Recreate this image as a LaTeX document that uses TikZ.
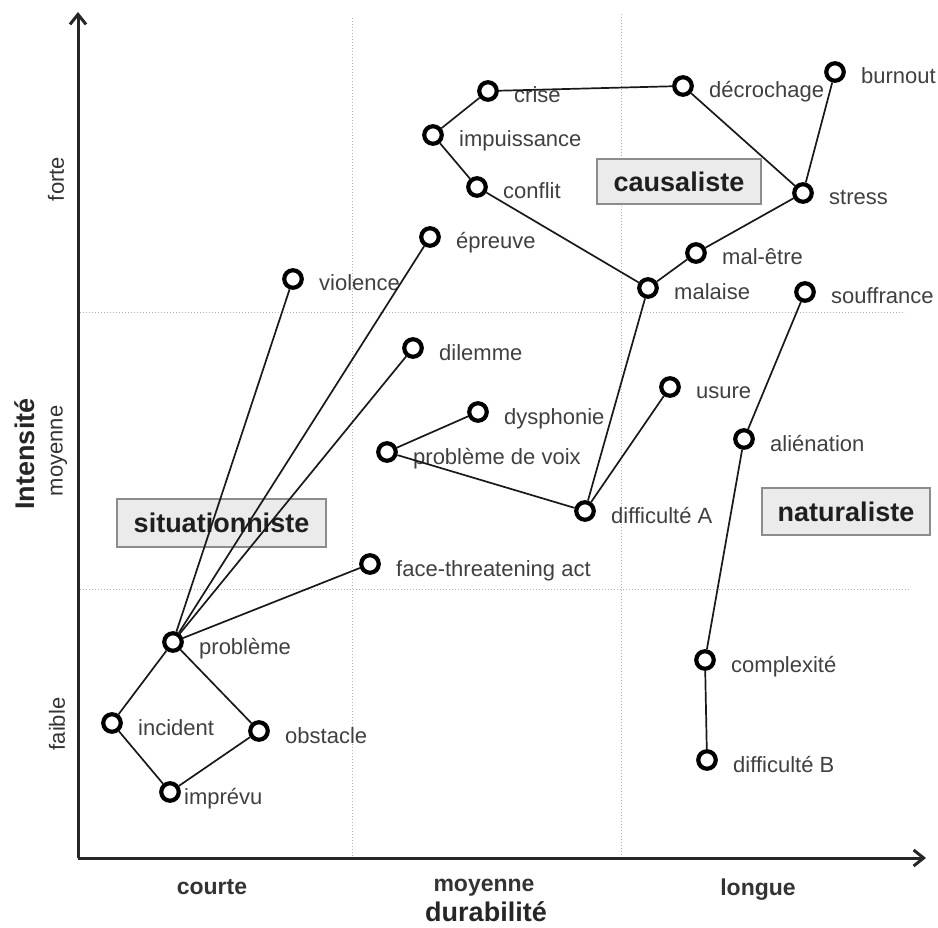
\documentclass[tikz,border=0pt]{standalone}
\usepackage{fontspec}
\setmainfont{Liberation Sans}
\usetikzlibrary{arrows.meta}
\begin{document}
\begin{tikzpicture}[x=1pt,y=-1pt,
  dot/.style={circle,draw=black,line width=4.2pt,fill=white,minimum size=17.5pt,inner sep=0pt},
  lbl/.style={anchor=base west,inner sep=0pt,text=black!75,font=\fontsize{22}{24}\selectfont},
  link/.style={line width=1.7pt,black!90},
  cat/.style={draw=black!45,fill=black!8,line width=1.3pt,text=black!88,inner sep=0pt,
     font=\bfseries\fontsize{27}{30}\selectfont},
  gridline/.style={dotted,black!30,line width=1pt},
  axis/.style={line width=3pt,black!85,-{Straight Barb[length=10pt,width=16pt,line width=3pt]}},
  tick/.style={font=\bfseries\fontsize{23}{26}\selectfont,text=black!80,inner sep=0pt},
  vtick/.style={font=\fontsize{22}{24}\selectfont,text=black!80,inner sep=0pt,rotate=90},
  axlbl/.style={font=\bfseries\fontsize{27}{30}\selectfont,text=black!85,inner sep=0pt},
]
\useasboundingbox (0,0) rectangle (938,928);
% grid
\draw[gridline] (352,18) -- (352,856);
\draw[gridline] (621,14) -- (621,856);
\draw[gridline] (80,313) -- (905,313);
\draw[gridline] (80,589) -- (911,589);
% axes
\coordinate (O) at (78,858);
\coordinate (ytop) at (78,12);
\coordinate (xend) at (926,858);
\draw[axis] (O) -- (ytop);
\draw[axis] (O) -- (xend);
% axis labels
\node[vtick] (forte) at (56,179) {forte};
\node[vtick] (moyv) at (59,451) {moyenne};
\node[vtick] (faible) at (57,724) {faible};
\node[axlbl,rotate=90] (int) at (25,454) {Intensité};
\node[tick] (courte) at (212,887) {courte};
\node[tick] (moyh) at (484,888) {moyenne};
\node[tick] (longue) at (758,890) {longue};
\node[axlbl] (dur) at (486,912) {durabilité};
% category boxes
\node[cat,minimum width=164pt,minimum height=45pt] (caus) at (679,181.5) {causaliste};
\node[cat,minimum width=209pt,minimum height=48pt] (sit) at (221.5,523) {situationniste};
\node[cat,minimum width=168pt,minimum height=47pt] (nat) at (846,511.5) {naturaliste};
% nodes
\foreach \n/\x/\y/\t in {
  crise/488/91/crise,
  decro/683/86/décrochage,
  burn/835/72/burnout,
  stress/803/193/stress,
  malet/696/253/mal-être,
  malaise/648/288/malaise,
  souf/805/292/souffrance,
  usure/670/387/usure,
  alien/744/439/aliénation,
  impu/433/135/impuissance,
  conflit/477/187/conflit,
  epreuve/430/237/épreuve,
  viol/293/279/violence,
  dilem/413/348/dilemme,
  dysph/478/412/dysphonie,
  pvoix/387/452/problème de voix,
  diffA/585/511/difficulté A,
  fta/370/564/face-threatening act,
  prob/173/642/problème,
  incid/112/723/incident,
  obst/259/731/obstacle,
  compl/705/660/complexité,
  diffB/707/760/difficulté B}
{
  \node[dot] (\n) at (\x,\y) {};
  \node[lbl] (\n-l) at (\x+26,\y+12) {\t};
}
\node[dot] (impr) at (170,792) {};
\node[lbl] (impr-l) at (184,804) {imprévu};
% links
\draw[link] (crise) -- (decro);
\draw[link] (crise) -- (impu);
\draw[link] (impu) -- (conflit);
\draw[link] (conflit) -- (malaise);
\draw[link] (decro) -- (stress);
\draw[link] (burn) -- (stress);
\draw[link] (stress) -- (malet);
\draw[link] (malet) -- (malaise);
\draw[link] (malaise) -- (diffA);
\draw[link] (usure) -- (diffA);
\draw[link] (pvoix) -- (diffA);
\draw[link] (dysph) -- (pvoix);
\draw[link] (souf) -- (alien);
\draw[link] (alien) -- (compl);
\draw[link] (compl) -- (diffB);
\draw[link] (prob) -- (viol);
\draw[link] (prob) -- (epreuve);
\draw[link] (prob) -- (dilem);
\draw[link] (prob) -- (fta);
\draw[link] (prob) -- (incid);
\draw[link] (prob) -- (obst);
\draw[link] (incid) -- (impr);
\draw[link] (obst) -- (impr);
\end{tikzpicture}
\end{document}
